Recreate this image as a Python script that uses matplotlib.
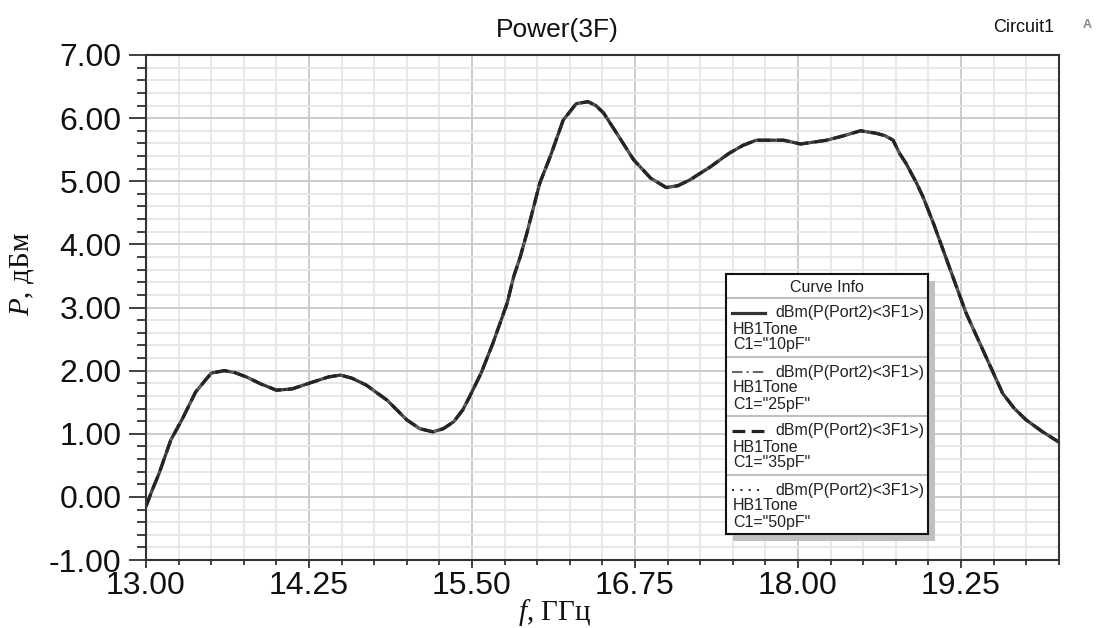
import matplotlib
matplotlib.use("Agg")
import matplotlib.pyplot as plt
from matplotlib.patches import Rectangle
from matplotlib.ticker import MultipleLocator, FixedLocator, FormatStrFormatter

plt.rcParams['font.family'] = ['Liberation Sans', 'DejaVu Sans']
plt.rcParams['mathtext.fontset'] = 'custom'
plt.rcParams['mathtext.rm'] = 'Liberation Serif'
plt.rcParams['mathtext.it'] = 'Liberation Serif:italic'

# frequency, GHz
freq = [13.00, 13.05, 13.10, 13.19, 13.28, 13.38, 13.50, 13.60, 13.68, 13.77,
        13.88, 14.00, 14.12, 14.28, 14.40, 14.49, 14.58, 14.69, 14.85, 15.00,
        15.10, 15.20, 15.28, 15.36, 15.43, 15.48, 15.57, 15.66, 15.77, 15.82,
        15.87, 15.92, 16.02, 16.10, 16.20, 16.30, 16.39, 16.45, 16.51, 16.61,
        16.74, 16.87, 16.99, 17.08, 17.17, 17.33, 17.47, 17.58, 17.68, 17.89,
        18.02, 18.22, 18.35, 18.48, 18.60, 18.67, 18.73, 18.78, 18.83, 18.91,
        18.96, 19.04, 19.17, 19.29, 19.42, 19.57, 19.66, 19.75, 19.87, 20.00]
# output power at 3F, dBm (all four capacitances give the same curve)
p_dbm = [-0.15, 0.12, 0.37, 0.90, 1.24, 1.66, 1.96, 2.00, 1.97, 1.90,
         1.79, 1.69, 1.71, 1.82, 1.90, 1.93, 1.88, 1.77, 1.53, 1.22,
         1.08, 1.03, 1.08, 1.19, 1.38, 1.58, 1.96, 2.43, 3.07, 3.49,
         3.80, 4.17, 4.97, 5.39, 5.97, 6.23, 6.26, 6.20, 6.08, 5.76,
         5.34, 5.05, 4.90, 4.93, 5.02, 5.23, 5.44, 5.57, 5.65, 5.65,
         5.59, 5.65, 5.72, 5.80, 5.76, 5.72, 5.65, 5.44, 5.28, 4.97,
         4.75, 4.33, 3.59, 2.91, 2.32, 1.64, 1.40, 1.22, 1.04, 0.87]

caps = ['10pF', '25pF', '35pF', '50pF']
x_ticks = [13.00, 14.25, 15.50, 16.75, 18.00, 19.25]

styles = [dict(linestyle='-', lw=2.3, color='#333333'),
          dict(linestyle=(0, (5, 2, 1, 2)), lw=1.5, color='#666666'),
          dict(linestyle=(0, (4, 2)), lw=2.3, color='#222222'),
          dict(linestyle=(0, (1, 3)), lw=1.5, color='#333333')]

W, H = 1096, 628
fig = plt.figure(figsize=(W / 100, H / 100), dpi=100)
ax = fig.add_axes([146 / W, 1 - 560 / H, 912.7 / W, 505 / H])

for c, st in zip(caps, styles):
    ax.plot(freq, p_dbm, **st)

ax.set_xlim(13.0, 20.0)
ax.set_ylim(-1.0, 7.0)
ax.xaxis.set_major_locator(FixedLocator(x_ticks))
ax.xaxis.set_minor_locator(MultipleLocator(0.25))
ax.yaxis.set_major_locator(MultipleLocator(1.0))
ax.yaxis.set_minor_locator(MultipleLocator(0.2))
ax.xaxis.set_major_formatter(FormatStrFormatter('%.2f'))
ax.yaxis.set_major_formatter(FormatStrFormatter('%.2f'))

ax.set_axisbelow(True)
ax.grid(which='minor', color='#e6e6e6', lw=1.3)
ax.grid(which='major', color='#c8c8c8', lw=1.3)

ax.tick_params(axis='y', which='major', length=12, width=1.3, pad=5.5,
               labelsize=23, colors='#333333', labelcolor='#111111')
ax.tick_params(axis='y', which='minor', length=6.5, width=1.3, colors='#333333')
ax.tick_params(axis='x', which='major', length=6, width=1.3, pad=2,
               labelsize=23, colors='#333333', labelcolor='#111111')
ax.tick_params(axis='x', which='minor', length=3.5, width=1.3, colors='#333333')
for s in ax.spines.values():
    s.set_color('#333333')
    s.set_linewidth(1.5)

# axis labels
fig.text(22 / W, 1 - 274 / H, '$P$, дБм', rotation=90, ha='center', va='center',
         fontsize=21, family='Liberation Serif', color='#111111')
fig.text(555 / W, 1 - 613 / H, '$f$, ГГц', ha='center', va='center',
         fontsize=21, family='Liberation Serif', color='#111111')

fig.text(557 / W, 1 - 30 / H, 'Power(3F)', ha='center', va='center',
         fontsize=19, color='#111111')
fig.text(1024 / W, 1 - 27 / H, 'Circuit1', ha='center', va='center',
         fontsize=13, color='#111111')
fig.text(1087 / W, 1 - 25 / H, 'A', ha='center', va='center',
         fontsize=9, color='#888888', weight='bold')

# legend box "Curve Info"
lx, ly, lw_, lh = 726, 274, 202, 260
fig.patches.append(Rectangle(((lx + 7) / W, 1 - (ly + lh + 7) / H), lw_ / W, lh / H,
                             transform=fig.transFigure, facecolor='#c0c0c0',
                             edgecolor='none', zorder=1))
lax = fig.add_axes([lx / W, 1 - (ly + lh) / H, lw_ / W, lh / H], zorder=2)
lax.set_xlim(0, lw_)
lax.set_ylim(lh, 0)
lax.set_xticks([])
lax.set_yticks([])
for s in lax.spines.values():
    s.set_color('#111111')
    s.set_linewidth(1.5)

lax.text(lw_ / 2, 14, 'Curve Info', ha='center', va='center', fontsize=11.5, color='#222222')
for i, (c, st) in enumerate(zip(caps, styles)):
    t = 24 + 59 * i
    lax.plot([0, lw_], [t, t], color='#c0c0c0', lw=1.5)
    lax.plot([6, 39], [t + 15, t + 15], **st)
    lax.text(49, t + 15, 'dBm(P(Port2)<3F1>)', ha='left', va='center', fontsize=11.5, color='#222222')
    lax.text(7, t + 31, 'HB1Tone', ha='left', va='center', fontsize=11.5, color='#222222')
    lax.text(7, t + 47, 'C1="%s"' % c, ha='left', va='center', fontsize=11.5, color='#222222')

fig.savefig('out.png', dpi=100, facecolor='white')
